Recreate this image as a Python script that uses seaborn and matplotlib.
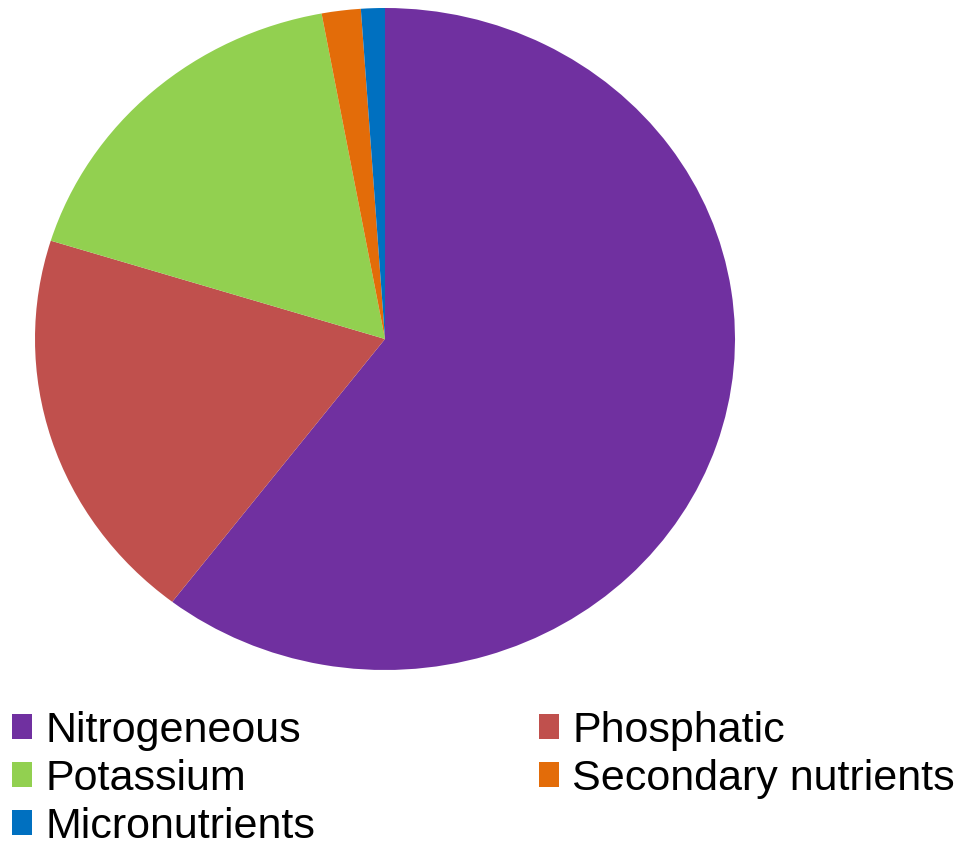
import matplotlib
matplotlib.use("Agg")
import matplotlib.pyplot as plt
from matplotlib.patches import Patch
import seaborn as sns

sns.set_style("white")
plt.rcParams['font.family'] = ['Liberation Sans', 'DejaVu Sans']

# fertiliser consumption share (%)
categories = ['Nitrogeneous', 'Phosphatic', 'Potassium', 'Secondary nutrients', 'Micronutrients']
shares = [60.4, 19.4, 17.3, 1.8, 1.1]
colors = sns.color_palette(['#7030A0', '#C0504D', '#92D050', '#E36C09', '#0070C0'])

fig = plt.figure(figsize=(9.67, 8.48), dpi=100)
ax = fig.add_axes([35 / 967, 1 - 670 / 848, 700 / 967, 662 / 848])

ax.pie(shares, colors=colors, startangle=90, counterclock=False,
       wedgeprops={'linewidth': 0})
ax.set_aspect('auto')
ax.set_xlim(-1, 1)
ax.set_ylim(-1, 1)
ax.axis('off')

# legend fills row by row in the reference, matplotlib fills by column
order = [0, 2, 4, 1, 3]
handles = [Patch(facecolor=colors[i], edgecolor='none') for i in order]
labels = [categories[i] for i in order]
fig.legend(handles, labels, loc='upper left', bbox_to_anchor=(12 / 967, 1 - 711 / 848),
           ncol=2, frameon=False, fontsize=31, labelcolor='black',
           borderpad=0, borderaxespad=0,
           handlelength=0.47, handleheight=0.52, handletextpad=0.3,
           columnspacing=5.2, labelspacing=0.18)

fig.savefig('out.png', dpi=100)
